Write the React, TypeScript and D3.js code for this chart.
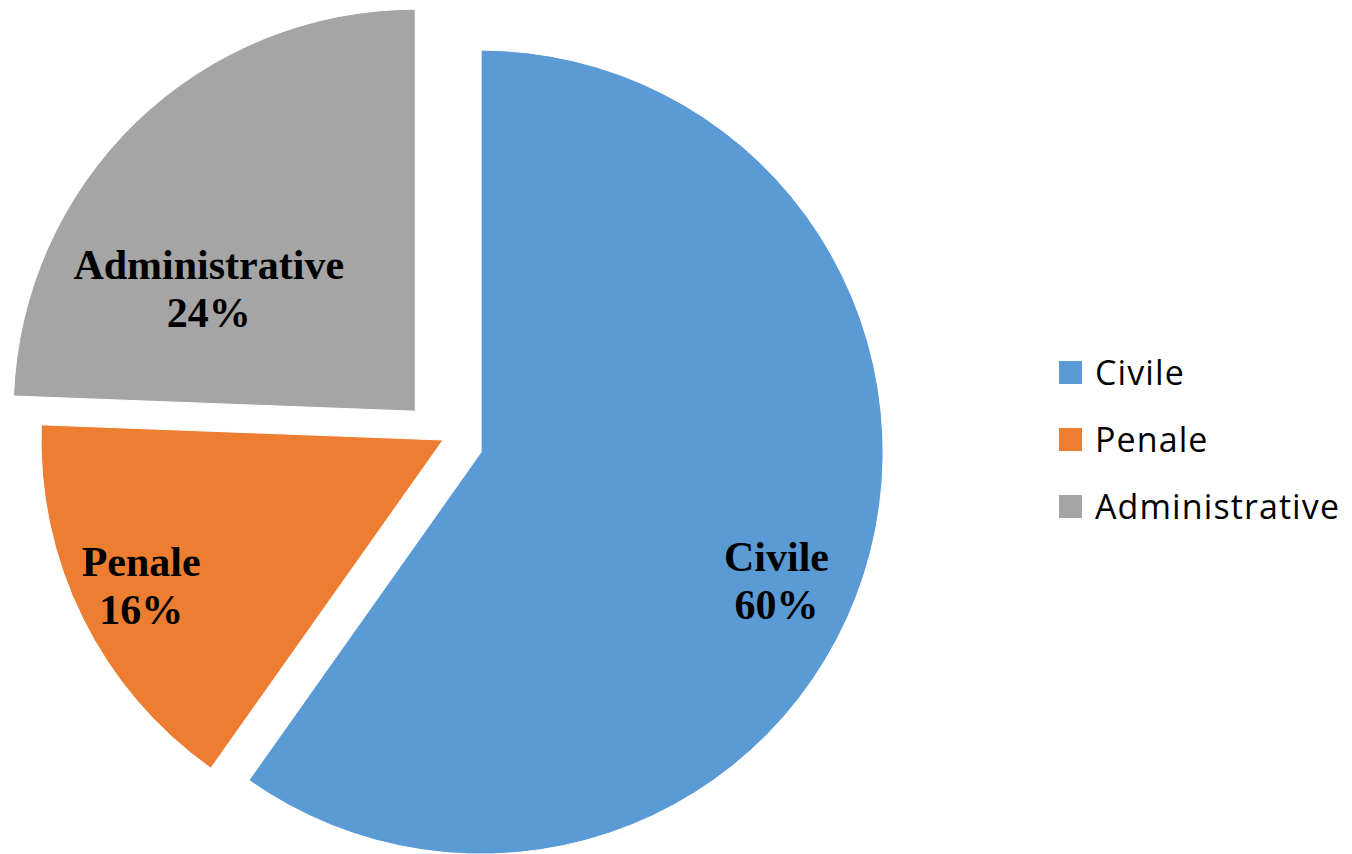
import React from "react";
import * as d3 from "d3";

const categories = ["Civile", "Penale", "Administrative"];
const values = [59.8, 15.8, 24.4];
const colors = ["#5B9BD5", "#ED7D31", "#A5A5A5"];
const explode = [40, 0, 40];
// label block center relative to slice apex: [fraction of radius, angle in degrees clockwise from top]
const labelPolar: [number, number][] = [
  [0.8, 113.3],
  [0.832, 244.5],
  [0.6, 301.1],
];

const W = 1352;
const H = 854;
const CX = 443;
const CY = 440;
const R = 402;

export default function App() {
  const pie = d3
    .pie<number>()
    .sort(null)
    .startAngle(0)
    .endAngle(2 * Math.PI)(values);
  const arc = d3.arc<d3.PieArcDatum<number>>().innerRadius(0).outerRadius(R);
  const total = d3.sum(values);

  const legendY = d3
    .scalePoint<string>()
    .domain(categories)
    .range([385, 519]);

  return (
    <svg
      width={W}
      height={H}
      style={{ position: "absolute", left: 0, top: 0, background: "#fff" }}
    >
      <g transform={`translate(${CX},${CY})`}>
        {pie.map((d, i) => {
          const mid = (d.startAngle + d.endAngle) / 2;
          const ox = explode[i] * Math.sin(mid);
          const oy = -explode[i] * Math.cos(mid);
          return (
            <path
              key={categories[i]}
              d={arc(d) || ""}
              transform={`translate(${ox},${oy})`}
              fill={colors[i]}
              stroke="#fff"
              strokeWidth={1}
            />
          );
        })}
        {pie.map((d, i) => {
          const mid = (d.startAngle + d.endAngle) / 2;
          const ox = explode[i] * Math.sin(mid);
          const oy = -explode[i] * Math.cos(mid);
          const [f, deg] = labelPolar[i];
          const a = (deg * Math.PI) / 180;
          const lx = ox + f * R * Math.sin(a);
          const ly = oy - f * R * Math.cos(a);
          const pct = Math.round((values[i] / total) * 100) + "%";
          return (
            <text
              key={"l" + categories[i]}
              x={lx}
              textAnchor="middle"
              fontFamily="'Liberation Serif', 'Times New Roman', serif"
              fontWeight="bold"
              fontSize={42}
              fill="#000"
            >
              <tspan x={lx} y={ly - 8}>
                {categories[i]}
              </tspan>
              <tspan x={lx} y={ly + 40}>
                {pct}
              </tspan>
            </text>
          );
        })}
      </g>
      <g>
        {categories.map((c, i) => {
          const y = legendY(c) as number;
          return (
            <g key={"lg" + c}>
              <rect x={1059} y={y - 24} width={23} height={23} fill={colors[i]} />
              <text
                x={1095}
                y={y}
                fontFamily="'Open Sans', sans-serif"
                fontSize={34}
                letterSpacing={1.1}
                fill="#000"
              >
                {c}
              </text>
            </g>
          );
        })}
      </g>
    </svg>
  );
}
